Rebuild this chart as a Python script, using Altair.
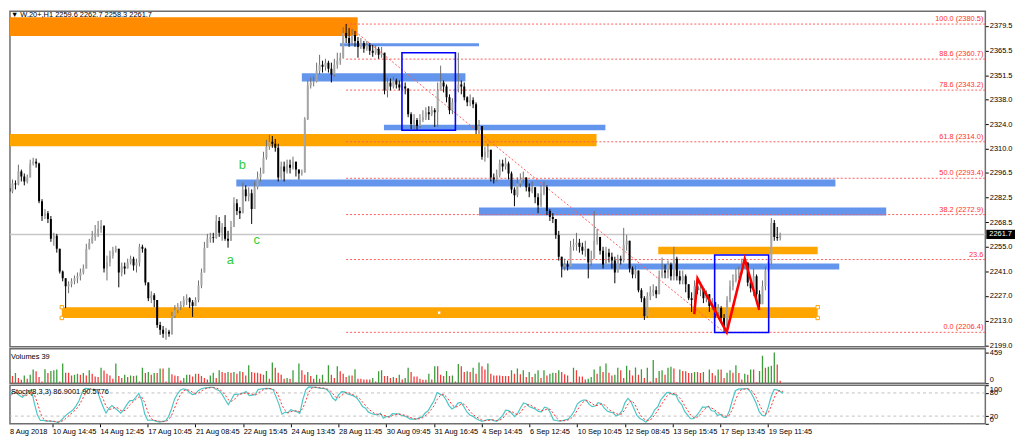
import altair as alt
import pandas as pd

FONT = "Liberation Sans"

# ---------------- data ----------------
first_open = 2287.7
close = [
2286.0, 2290.5, 2289.9, 2297.2, 2294.4, 2291.6, 2293.9, 2301.7, 2302.8, 2301.7,
2280.4, 2272.1, 2273.7, 2270.4, 2259.2, 2260.9, 2253.6, 2240.8, 2236.9, 2232.4,
2233.5, 2235.2, 2236.9, 2238.0, 2240.2, 2242.4, 2253.6, 2257.0, 2260.3, 2262.6,
2264.8, 2266.5, 2242.4, 2245.8, 2249.7, 2252.5, 2253.6, 2240.2, 2243.6, 2242.4,
2245.8, 2248.0, 2244.1, 2245.8, 2254.7, 2253.6, 2234.6, 2225.7, 2227.3, 2224.6,
2210.6, 2207.8, 2205.6, 2206.7, 2205.6, 2215.6, 2219.0, 2220.7, 2221.8, 2224.6,
2225.7, 2223.4, 2221.2, 2224.6, 2232.9, 2240.2, 2254.2, 2259.2, 2260.3, 2259.8,
2269.3, 2262.6, 2265.9, 2259.2, 2258.1, 2265.9, 2279.3, 2274.9, 2273.7, 2287.1,
2283.2, 2284.9, 2276.0, 2288.3, 2293.9, 2296.1, 2305.0, 2311.2, 2314.0, 2312.9,
2310.6, 2293.9, 2300.0, 2297.2, 2301.1, 2299.4, 2302.8, 2298.3, 2296.1, 2296.6,
2326.8, 2345.8, 2347.5, 2348.1, 2354.2, 2357.5, 2356.4, 2358.7, 2355.3, 2352.0,
2357.5, 2359.8, 2361.5, 2375.4, 2372.6, 2369.8, 2374.3, 2371.0, 2367.6, 2369.8,
2366.5, 2368.7, 2365.4, 2364.3, 2366.5, 2363.1, 2364.3, 2343.0, 2347.5, 2345.3,
2348.6, 2346.4, 2344.7, 2345.3, 2344.1, 2329.6, 2324.0, 2326.3, 2322.9, 2326.3,
2327.9, 2330.7, 2329.6, 2331.8, 2330.7, 2343.0, 2347.5, 2345.3, 2339.1, 2331.8,
2336.3, 2344.1, 2346.4, 2345.3, 2339.1, 2336.3, 2337.4, 2335.2, 2320.7, 2322.9,
2305.6, 2308.4, 2309.5, 2293.9, 2292.7, 2295.0, 2301.7, 2300.0, 2301.7, 2296.1,
2287.1, 2283.8, 2290.5, 2292.7, 2293.9, 2288.3, 2286.0, 2288.3, 2282.7, 2278.2,
2284.9, 2288.3, 2274.9, 2271.5, 2270.4, 2261.4, 2249.1, 2243.6, 2244.7, 2243.6,
2254.7, 2255.9, 2257.0, 2254.7, 2252.5, 2253.6, 2245.8, 2248.0, 2258.1, 2260.3,
2252.5, 2244.7, 2251.4, 2249.1, 2246.9, 2240.2, 2248.0, 2246.9, 2255.9, 2258.1,
2242.4, 2239.1, 2241.3, 2230.1, 2225.7, 2215.6, 2226.8, 2229.0, 2230.1, 2227.9,
2238.0, 2241.3, 2240.2, 2244.7, 2238.0, 2248.0, 2238.0, 2235.7, 2238.0, 2233.5,
2225.7, 2224.6, 2232.4, 2230.1, 2231.3, 2225.7, 2227.9, 2221.2, 2223.4, 2217.9,
2220.1, 2214.5, 2210.0, 2224.6, 2232.4, 2235.7, 2239.1, 2240.2, 2243.6, 2245.8,
2234.6, 2231.3, 2238.0, 2227.9, 2222.3, 2232.4, 2241.3, 2245.8, 2268.1, 2260.3,
2259.6, 2261.7]
high = [
2291.6, 2292.7, 2292.2, 2301.1, 2298.3, 2296.1, 2295.5, 2303.9, 2305.0, 2304.5,
2302.2, 2281.6, 2276.0, 2274.9, 2272.1, 2262.6, 2262.0, 2253.6, 2241.3, 2234.1,
2235.2, 2236.9, 2238.5, 2240.2, 2242.4, 2244.7, 2256.4, 2259.2, 2263.7, 2267.0,
2269.3, 2269.8, 2267.0, 2249.7, 2252.5, 2254.7, 2255.3, 2248.0, 2245.8, 2245.8,
2248.0, 2249.7, 2249.1, 2248.0, 2256.4, 2255.9, 2254.2, 2234.6, 2229.6, 2228.5,
2224.6, 2212.3, 2210.0, 2208.9, 2207.8, 2217.9, 2221.8, 2222.9, 2224.0, 2226.8,
2227.9, 2226.2, 2224.6, 2226.2, 2235.7, 2242.4, 2257.5, 2262.0, 2262.6, 2262.6,
2272.6, 2271.5, 2268.1, 2272.6, 2263.7, 2269.3, 2282.7, 2281.6, 2277.1, 2291.0,
2289.4, 2288.3, 2287.1, 2291.6, 2297.2, 2299.4, 2308.4, 2315.1, 2317.9, 2317.3,
2315.6, 2312.9, 2302.8, 2302.8, 2303.9, 2303.9, 2305.6, 2302.8, 2298.3, 2298.3,
2327.9, 2348.6, 2350.3, 2350.8, 2358.7, 2363.1, 2359.8, 2360.9, 2359.8, 2358.7,
2360.9, 2364.3, 2364.3, 2378.8, 2380.5, 2378.2, 2377.7, 2376.6, 2373.2, 2372.6,
2371.0, 2371.0, 2369.8, 2368.7, 2368.7, 2367.6, 2367.6, 2364.3, 2350.3, 2349.7,
2350.8, 2349.7, 2348.6, 2347.5, 2347.5, 2339.1, 2330.7, 2329.6, 2327.4, 2329.6,
2331.8, 2333.5, 2334.1, 2334.1, 2333.0, 2347.5, 2357.0, 2348.6, 2346.4, 2340.8,
2338.6, 2347.5, 2364.3, 2348.6, 2347.5, 2339.7, 2340.8, 2339.1, 2336.3, 2326.3,
2322.9, 2311.2, 2312.9, 2309.5, 2296.1, 2298.3, 2303.9, 2303.9, 2305.0, 2302.8,
2297.2, 2288.3, 2293.9, 2296.1, 2297.2, 2293.9, 2290.5, 2291.6, 2287.1, 2284.9,
2289.4, 2291.6, 2289.4, 2276.0, 2273.7, 2270.4, 2263.7, 2249.1, 2248.0, 2246.9,
2258.1, 2259.2, 2262.6, 2259.2, 2257.0, 2258.1, 2253.6, 2252.5, 2274.9, 2264.8,
2260.3, 2254.7, 2254.7, 2253.6, 2251.4, 2249.1, 2250.3, 2249.7, 2265.4, 2261.4,
2258.1, 2243.6, 2244.1, 2240.2, 2231.3, 2226.8, 2229.0, 2232.4, 2233.5, 2232.4,
2241.3, 2248.6, 2244.7, 2246.9, 2245.8, 2254.7, 2249.1, 2241.3, 2241.3, 2239.1,
2230.1, 2229.0, 2235.7, 2235.7, 2234.6, 2231.3, 2230.1, 2226.8, 2225.7, 2223.4,
2222.3, 2221.2, 2216.7, 2226.8, 2235.7, 2239.1, 2242.4, 2243.6, 2248.0, 2248.0,
2244.7, 2236.9, 2242.4, 2239.1, 2230.1, 2235.7, 2243.6, 2248.0, 2270.9, 2269.8,
2265.9, 2262.7]
low = [
2276.0, 2284.9, 2287.1, 2289.4, 2291.6, 2289.4, 2290.5, 2293.9, 2300.6, 2299.4,
2279.3, 2269.3, 2270.4, 2268.1, 2257.5, 2255.3, 2251.4, 2239.6, 2235.2, 2220.1,
2228.5, 2231.8, 2233.5, 2234.1, 2235.7, 2239.1, 2242.4, 2253.1, 2256.4, 2258.1,
2260.3, 2262.6, 2240.2, 2235.7, 2243.6, 2248.0, 2251.4, 2231.8, 2238.0, 2239.1,
2242.4, 2244.7, 2241.3, 2240.2, 2243.6, 2251.4, 2232.9, 2224.0, 2222.9, 2220.6,
2208.9, 2205.0, 2203.3, 2202.2, 2203.9, 2205.0, 2214.5, 2217.3, 2219.0, 2220.7,
2221.8, 2220.1, 2215.1, 2221.8, 2223.4, 2231.3, 2245.8, 2254.7, 2257.0, 2257.0,
2259.2, 2260.3, 2258.1, 2258.1, 2254.2, 2258.1, 2265.9, 2272.6, 2270.4, 2276.0,
2280.4, 2280.4, 2267.6, 2277.6, 2287.1, 2291.6, 2296.1, 2303.9, 2309.5, 2310.6,
2308.4, 2291.6, 2292.7, 2291.6, 2296.1, 2296.1, 2298.3, 2294.4, 2292.7, 2294.9,
2308.4, 2326.3, 2344.1, 2345.3, 2347.5, 2352.0, 2353.1, 2354.2, 2353.1, 2347.5,
2350.8, 2355.3, 2357.5, 2360.9, 2369.8, 2367.6, 2368.7, 2367.6, 2361.5, 2366.5,
2364.3, 2365.4, 2363.1, 2362.0, 2363.1, 2360.9, 2361.5, 2340.8, 2339.1, 2343.0,
2344.1, 2344.1, 2343.0, 2343.0, 2340.8, 2327.9, 2321.2, 2320.7, 2320.7, 2321.8,
2325.1, 2326.3, 2326.3, 2328.5, 2322.4, 2322.4, 2343.0, 2341.9, 2336.3, 2329.6,
2329.6, 2336.3, 2341.9, 2340.8, 2337.4, 2334.1, 2334.1, 2333.0, 2318.4, 2318.4,
2303.9, 2302.8, 2305.0, 2291.6, 2290.5, 2291.6, 2293.9, 2297.2, 2298.3, 2292.7,
2284.9, 2277.6, 2282.7, 2288.3, 2290.5, 2286.0, 2282.7, 2284.9, 2279.3, 2273.7,
2277.1, 2283.8, 2272.6, 2269.3, 2268.1, 2259.2, 2246.9, 2237.4, 2241.3, 2241.3,
2243.6, 2252.5, 2252.5, 2251.4, 2250.3, 2249.1, 2236.9, 2244.1, 2248.0, 2255.9,
2250.3, 2242.4, 2244.7, 2245.8, 2242.4, 2234.1, 2243.6, 2244.7, 2245.8, 2252.5,
2240.2, 2236.9, 2236.9, 2229.0, 2223.4, 2213.4, 2214.5, 2224.6, 2226.8, 2225.7,
2227.9, 2236.9, 2236.9, 2236.9, 2235.7, 2235.7, 2235.7, 2233.5, 2233.5, 2229.0,
2224.6, 2217.9, 2222.3, 2227.9, 2226.8, 2222.9, 2223.4, 2217.9, 2219.0, 2214.5,
2214.5, 2212.3, 2206.4, 2208.9, 2223.4, 2230.1, 2234.6, 2236.9, 2239.1, 2242.4,
2232.4, 2229.0, 2226.8, 2225.7, 2220.1, 2224.6, 2230.1, 2240.2, 2244.7, 2258.1,
2258.1, 2258.3]
volume = [
194, 107, 153, 77, 51, 117, 66, 128, 204, 179, 92, 26, 209, 153, 184, 194, 204, 26, 296, 158,
158, 117, 128, 143, 128, 153, 117, 194, 143, 102, 92, 230, 189, 143, 117, 66, 296, 107, 77, 128,
92, 117, 107, 117, 26, 230, 153, 168, 128, 153, 153, 219, 219, 26, 230, 133, 117, 107, 41, 77,
128, 128, 102, 143, 143, 107, 77, 56, 117, 158, 77, 194, 168, 153, 168, 158, 168, 143, 179, 168,
117, 270, 168, 158, 158, 143, 128, 184, 66, 311, 230, 158, 128, 66, 77, 66, 194, 15, 296, 194,
128, 168, 107, 66, 128, 66, 128, 26, 270, 128, 77, 255, 179, 143, 92, 117, 117, 209, 66, 66,
56, 56, 56, 77, 26, 179, 194, 107, 107, 77, 92, 77, 128, 56, 77, 230, 168, 102, 102, 66,
51, 51, 143, 56, 255, 255, 128, 107, 184, 107, 117, 26, 286, 255, 168, 179, 168, 230, 143, 311,
255, 204, 296, 143, 117, 117, 117, 107, 107, 107,
194, 143, 219, 133, 194, 92, 168, 92, 143, 194, 77, 194, 117, 143, 158, 153, 194, 168, 133, 117,
15, 230, 194, 102, 102, 56, 66, 92, 204, 143, 255, 168, 296, 158, 117, 128, 230, 194, 77, 260,
194, 117, 235, 128, 209, 77, 230, 26, 347, 77, 184, 194, 128, 230, 245, 219, 15, 204, 184, 179,
153, 153, 168, 168, 153, 168, 15, 204, 153, 117, 204, 204, 77, 158, 194, 158, 270, 153, 56, 143,
128, 204, 204, 15, 184, 410, 230, 245, 260, 459, 281, 39]

time_labels = ["8 Aug 2018", "10 Aug 14:45", "14 Aug 12:45", "17 Aug 10:45", "21 Aug 08:45",
               "22 Aug 15:45", "24 Aug 13:45", "28 Aug 11:45", "30 Aug 09:45", "31 Aug 16:45",
               "4 Sep 14:45", "6 Sep 12:45", "10 Sep 10:45", "12 Sep 08:45", "13 Sep 15:45",
               "17 Sep 13:45", "19 Sep 11:45"]
bars_per_label = 16
price_ticks = [2379.5, 2365.5, 2351.5, 2338.0, 2324.0, 2310.0, 2296.5, 2282.5,
               2268.5, 2255.0, 2241.0, 2227.0, 2213.0, 2199.0]

fib_prices = [2380.5, 2360.7, 2343.2, 2314.0, 2293.4, 2272.9, 2247.5, 2206.4]
fib_texts = ["100.0 (2380.5)", "88.6 (2360.7)", "78.6 (2343.2)", "61.8 (2314.0)",
             "50.0 (2293.4)", "38.2 (2272.9)", "23.6", "0.0 (2206.4)"]
fib_start_bar = 114
fib_end_bar = 242

zone_kind = ["dark", "orange", "orange", "orange", "blue", "blue", "blue", "blue", "blue", "blue"]
zone_from = [-5, -5, 17.7, 219.7, 111.9, 99.0, 126.8, 76.8, 159.0, 186.9]
zone_to = [117.9, 198.8, 273.7, 273.7, 159.0, 154.4, 201.8, 279.7, 296.9, 281.0]
zone_top = [2384.4, 2318.4, 2220.6, 2254.7, 2369.6, 2352.7, 2323.6, 2292.7, 2276.9, 2245.2]
zone_bottom = [2373.8, 2311.5, 2214.5, 2250.5, 2367.9, 2348.1, 2320.5, 2288.8, 2272.4, 2241.9]

box_from = [132.9, 238.8]
box_to = [151.0, 257.1]
box_top = [2364.3, 2250.1]
box_bottom = [2320.5, 2206.3]

zig_bar = [231.9, 233.0, 242.9, 249.0, 253.9]
zig_price = [2216.7, 2236.7, 2206.5, 2247.8, 2219.0]

letter_text = ["a", "b", "c"]
letter_bar = [74.8, 78.8, 83.7]
letter_price = [2247.5, 2300.6, 2258.6]

handle_bar = [17.7, 17.7, 273.7, 273.7, 145.5]
handle_price = [2220.6, 2214.5, 2220.6, 2214.5, 2217.5]

title_text = "\u25bc W.20+,H1  2259.6 2262.7 2258.3 2261.7"
vol_text = "Volumes 39"
stoch_text = "Stoch(8,3,3) 86.9001 90.5776"
vol_ticks = [0, 459]
stoch_levels = [20, 80]

# ---------------- tables ----------------
n = len(close)
opens = [first_open] + close[:-1]
df = pd.DataFrame({"i": list(range(n)), "open": opens, "close": close,
                   "high": [max(h, o, c) for h, o, c in zip(high, opens, close)],
                   "low": [min(l, o, c) for l, o, c in zip(low, opens, close)],
                   "vol": volume})
df["vup"] = [(k == 0 or volume[k] > volume[k - 1]) for k in range(n)]
ll = df["low"].rolling(8, min_periods=1).min()
hh = df["high"].rolling(8, min_periods=1).max()
df["K"] = 100 * (df["close"] - ll).rolling(3, min_periods=1).sum() / (hh - ll).rolling(3, min_periods=1).sum()
df["D"] = df["K"].rolling(3, min_periods=1).mean()

W = 986
H_MAIN, H_VOL, H_ST = 339, 35, 39
XDOM = [1.824, 328.8]
YDOM = [2198.3, 2387.7]

xs = alt.Scale(domain=XDOM, nice=False, zero=False)
ys = alt.Scale(domain=YDOM, nice=False, zero=False)

main_axis = alt.Axis(orient="right", values=price_ticks, format=".1f", title=None, tickSize=3,
                     labelPadding=1, domain=False, grid=False, labelOverlap=False)


def MX(f):
    return alt.X(f, type="quantitative", scale=xs, axis=None, title=None)


def MY(f):
    return alt.Y(f, type="quantitative", scale=ys, axis=main_axis, title=None)


zones = pd.DataFrame({"kind": zone_kind, "x1": zone_from, "x2": zone_to, "y1": zone_top, "y2": zone_bottom})
fib = pd.DataFrame({"p": fib_prices, "t": fib_texts, "x1": [fib_start_bar] * len(fib_prices),
                    "x2": [XDOM[1] + 5] * len(fib_prices)})
diag = pd.DataFrame({"i": [fib_start_bar, fib_end_bar], "p": [fib_prices[0], fib_prices[-1]]})
boxes = pd.DataFrame({"x1": box_from, "x2": box_to, "y1": box_top, "y2": box_bottom})
zig = pd.DataFrame({"i": zig_bar, "p": zig_price, "o": list(range(len(zig_bar)))})
letters = pd.DataFrame({"i": letter_bar, "p": letter_price, "t": letter_text})
handles = pd.DataFrame({"i": handle_bar, "p": handle_price})
last = pd.DataFrame({"p": [close[-1]], "t": [f"{close[-1]:.1f}"]})
title_df = pd.DataFrame({"t": [title_text]})

UP = "datum.close >= datum.open"

zone_layer = alt.Chart(zones).mark_rect(clip=True).encode(
    x=MX("x1"), x2="x2", y=MY("y1"), y2="y2",
    color=alt.Color("kind:N", scale=alt.Scale(domain=["dark", "orange", "blue"],
                                             range=["#ff8c00", "#ffa500", "#6495ed"]), legend=None))
bid_layer = alt.Chart(last).mark_rule(color="#c8c8c8", strokeWidth=1.5).encode(y=MY("p"))
fib_layer = alt.Chart(fib).mark_rule(color="#ff5a5a", strokeWidth=1, strokeDash=[2, 2], clip=True).encode(
    x=MX("x1"), x2="x2", y=MY("p"))
diag_layer = alt.Chart(diag).mark_line(color="#ff5a5a", strokeWidth=1, strokeDash=[2, 2]).encode(
    x=MX("i"), y=MY("p"))
fib_text_layer = alt.Chart(fib).mark_text(align="right", baseline="bottom", dy=-1, fontSize=7.5,
                                          font=FONT, color="#ff3030").encode(
    x=alt.value(W - 2), y=MY("p"), text="t:N")
wick_layer = alt.Chart(df).mark_rule(strokeWidth=1, clip=True).encode(
    x=MX("i"), y=MY("low"), y2="high",
    color=alt.condition(UP, alt.value("#6e6e6e"), alt.value("#000000")))
body_layer = alt.Chart(df).mark_bar(size=2, clip=True).encode(
    x=MX("i"), y=MY("open"), y2="close",
    color=alt.condition(UP, alt.value("#a6a6a6"), alt.value("#000000")))
box_layer = alt.Chart(boxes).mark_rect(fillOpacity=0, stroke="#0000ff", strokeWidth=1.6).encode(
    x=MX("x1"), x2="x2", y=MY("y1"), y2="y2")
zig_layer = alt.Chart(zig).mark_line(color="#ff0000", strokeWidth=2.6).encode(
    x=MX("i"), y=MY("p"), order="o:Q")
letter_layer = alt.Chart(letters).mark_text(color="#33cc33", fontSize=13, font=FONT).encode(
    x=MX("i"), y=MY("p"), text="t:N")
handle_layer = alt.Chart(handles).mark_point(shape="square", size=12, filled=True, fill="#ffffff",
                                             stroke="#ffa500", strokeWidth=1, opacity=1).encode(
    x=MX("i"), y=MY("p"))
box_price = alt.Chart(last).transform_calculate(top="datum.p + 2.6", bot="datum.p - 2.6").mark_rect(
    color="#000000").encode(x=alt.value(W + 1), x2=alt.value(W + 30), y=MY("top:Q"), y2="bot:Q")
box_price_text = alt.Chart(last).mark_text(align="left", baseline="middle", color="#ffffff",
                                           fontSize=7.5, font=FONT).encode(
    x=alt.value(W + 4), y=MY("p"), text="t:N")
title_layer = alt.Chart(title_df).mark_text(align="left", baseline="top", fontSize=7.5, font=FONT,
                                            color="#000000").encode(
    x=alt.value(1), y=alt.value(0), text="t:N")

main = alt.layer(zone_layer, bid_layer, fib_layer, diag_layer, fib_text_layer, wick_layer, body_layer,
                 box_layer, zig_layer, letter_layer, handle_layer, box_price, box_price_text,
                 title_layer).properties(width=W, height=H_MAIN)

# volumes panel
vol_axis = alt.Axis(orient="right", values=vol_ticks, format="d", title=None, tickSize=3, labelPadding=1,
                    labelFlush=True, labelOverlap=False, domain=False, grid=False)
vol_bars = alt.Chart(df).mark_bar(size=1.3, clip=True).encode(
    x=MX("i"),
    y=alt.Y("vol:Q", scale=alt.Scale(domain=[0, 516], nice=False), axis=vol_axis, title=None),
    color=alt.condition("datum.vup", alt.value("#3a9d3a"), alt.value("#f23c3c")))
vol_label = alt.Chart(pd.DataFrame({"t": [vol_text]})).mark_text(
    align="left", baseline="top", fontSize=7.5, font=FONT, color="#000000").encode(
    x=alt.value(1), y=alt.value(4), text="t:N")
vol = alt.layer(vol_bars, vol_label).properties(width=W, height=H_VOL)

# stochastic panel
tick_bars = [k * bars_per_label for k in range(len(time_labels))]
label_expr = " : ".join(f"datum.value == {b} ? '{t}'" for b, t in zip(tick_bars[1:], time_labels[1:])) + " : ''"
st_x_axis = alt.Axis(orient="bottom", values=tick_bars[1:], labelExpr=label_expr, labelAlign="left",
                     tickSize=3, labelPadding=1, domain=False, grid=False, labelOverlap=False, title=None)
st_y_axis = alt.Axis(orient="right", values=[0, 20, 80, 100], title=None, tickSize=3, labelPadding=1,
                     labelFlush=True, labelOverlap=False, domain=False, grid=False)
sts = alt.Scale(domain=[0, 100], nice=False)


def SX(f):
    return alt.X(f, type="quantitative", scale=xs, axis=st_x_axis, title=None)


def SY(f):
    return alt.Y(f, type="quantitative", scale=sts, axis=st_y_axis, title=None)


levels = alt.Chart(pd.DataFrame({"v": stoch_levels})).mark_rule(
    color="#c0c0c0", strokeDash=[3, 3], strokeWidth=1).encode(y=SY("v"))
k_line = alt.Chart(df).mark_line(color="#4cc6c6", strokeWidth=1.2, clip=True).encode(x=SX("i"), y=SY("K"))
d_line = alt.Chart(df).mark_line(color="#ff3030", strokeWidth=1, strokeDash=[2, 2], clip=True).encode(
    x=SX("i"), y=SY("D"))
st_label = alt.Chart(pd.DataFrame({"t": [stoch_text]})).mark_text(
    align="left", baseline="top", fontSize=7.5, font=FONT, color="#000000").encode(
    x=alt.value(1), y=alt.value(3), text="t:N")
first_label = alt.Chart(pd.DataFrame({"t": [time_labels[0]]})).mark_text(
    align="left", baseline="top", fontSize=7.5, font=FONT, color="#000000").encode(
    x=alt.value(0), y=alt.value(H_ST + 4), text="t:N")
stoch = alt.layer(levels, k_line, d_line, st_label, first_label).properties(width=W, height=H_ST)

chart = alt.vconcat(main, vol, stoch, spacing=2, bounds="flush").properties(
    padding=0, background="#ffffff"
).configure_view(stroke="#6e6e6e", strokeWidth=1.5).configure_axis(
    labelFont=FONT, labelFontSize=7.5, labelColor="#000000", tickColor="#000000", tickWidth=1
)

chart.save("out.html", embed_options={"renderer": "svg", "actions": False})
